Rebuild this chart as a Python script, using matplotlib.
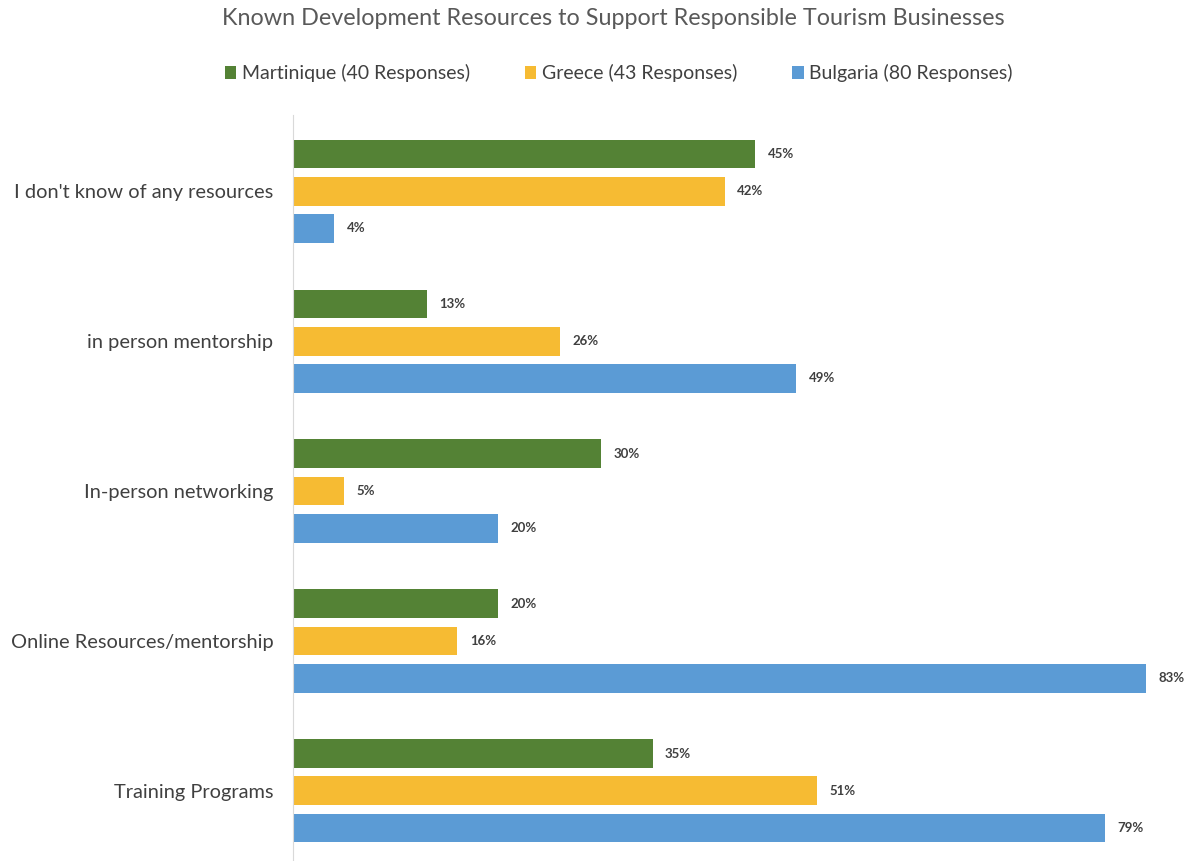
import numpy as np
import matplotlib.pyplot as plt

plt.rcParams['font.family'] = ['Lato', 'DejaVu Sans']

categories = ["I don't know of any resources", 'in person mentorship',
              'In-person networking', 'Online Resources/mentorship',
              'Training Programs']
series = ['Martinique (40 Responses)', 'Greece (43 Responses)',
          'Bulgaria (80 Responses)']
martinique = [45, 13, 30, 20, 35]
greece = [42, 26, 5, 16, 51]
bulgaria = [4, 49, 20, 83, 79]
colors = ['#548235', '#F6BB33', '#5B9BD5']

fig = plt.figure(figsize=(11.9, 8.61), dpi=100)
ax = fig.add_axes([0.2462, 0.0, 0.7538, 0.8664])

y = np.arange(len(categories))
h = 0.193
off = 0.247
for k, (vals, name, c) in enumerate(zip([martinique, greece, bulgaria], series, colors)):
    pos = y + (k - 1) * off
    ax.barh(pos, vals, height=h, color=c, label=name)
    for p, v in zip(pos, vals):
        ax.text(v + 1.2, p, f'{v}%', va='center', ha='left', fontsize=9.5,
                fontweight='bold', color='#404040')

ax.set_xlim(0, 87.3)
ax.set_ylim(4.467, -0.507)
ax.set_yticks(y)
ax.set_yticklabels(categories, fontsize=14.4, color='#404040')
ax.tick_params(axis='y', length=0, pad=14)
ax.set_xticks([])
for s in ['top', 'right', 'bottom']:
    ax.spines[s].set_visible(False)
ax.spines['left'].set_color('#D9D9D9')

fig.text(0.515, 0.978, 'Known Development Resources to Support Responsible Tourism Businesses',
         ha='center', va='center', fontsize=16.8, color='#595959')
fig.legend(loc='center', bbox_to_anchor=(0.52, 0.915), ncol=3, frameon=False,
           fontsize=14, handlelength=0.6, handleheight=0.6, handletextpad=0.3,
           columnspacing=2.8, labelcolor='#404040')

fig.savefig('out.png', dpi=100)
